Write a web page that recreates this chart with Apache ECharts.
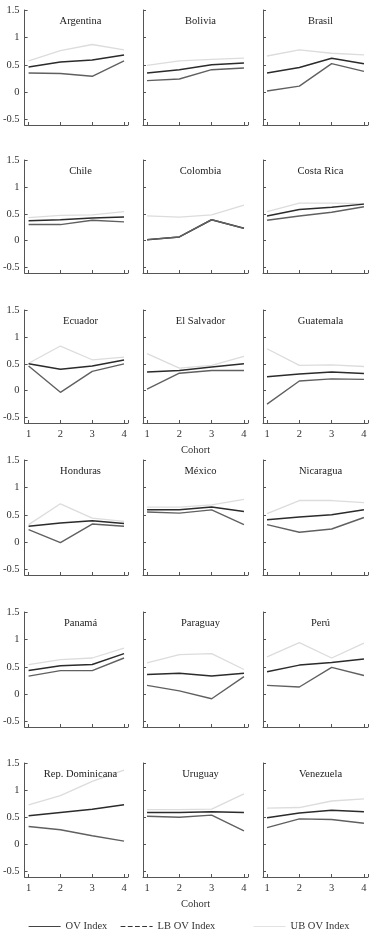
<!DOCTYPE html>
<html lang="en">
<head>
    <meta charset="UTF-8">
    <title>OV Index by cohort</title>
    <script src="https://cdn.jsdelivr.net/npm/echarts@6.0.0/dist/echarts.min.js"></script>
    <style>
        body, html {
            margin: 0;
            padding: 0;
            width: 100%;
            height: 100%;
            background-color: #fff;
        }
        #container {
            width: 376px;
            height: 932px;
        }
    </style>
</head>
<body>
    <div id="container"></div>
    <script>
        // data
        var countries = ['Argentina', 'Bolivia', 'Brasil', 'Chile', 'Colombia', 'Costa Rica',
            'Ecuador', 'El Salvador', 'Guatemala', 'Honduras', 'México', 'Nicaragua',
            'Panamá', 'Paraguay', 'Perú', 'Rep. Dominicana', 'Uruguay', 'Venezuela'];
        var cohorts = [1, 2, 3, 4];
        var yTicks = [-0.5, 0, 0.5, 1, 1.5];

        var ovIndex = [
            [0.46, 0.55, 0.585, 0.68], [0.35, 0.41, 0.50, 0.53], [0.35, 0.45, 0.62, 0.52],
            [0.37, 0.39, 0.42, 0.44], [0.02, 0.07, 0.39, 0.23], [0.46, 0.58, 0.62, 0.68],
            [0.50, 0.40, 0.46, 0.57], [0.35, 0.375, 0.44, 0.50], [0.26, 0.31, 0.35, 0.32],
            [0.29, 0.35, 0.39, 0.34], [0.59, 0.59, 0.64, 0.56], [0.41, 0.46, 0.50, 0.59],
            [0.43, 0.52, 0.54, 0.74], [0.36, 0.38, 0.33, 0.38], [0.41, 0.53, 0.58, 0.64],
            [0.53, 0.59, 0.65, 0.73], [0.59, 0.59, 0.60, 0.59], [0.49, 0.58, 0.63, 0.60]
        ];
        var lbIndex = [
            [0.35, 0.34, 0.29, 0.57], [0.21, 0.24, 0.41, 0.44], [0.02, 0.11, 0.52, 0.38],
            [0.30, 0.30, 0.38, 0.35], [0.02, 0.07, 0.39, 0.23], [0.38, 0.46, 0.53, 0.63],
            [0.46, -0.03, 0.36, 0.50], [0.03, 0.325, 0.375, 0.375], [-0.25, 0.18, 0.22, 0.21],
            [0.23, -0.01, 0.33, 0.29], [0.55, 0.53, 0.59, 0.32], [0.32, 0.18, 0.24, 0.45],
            [0.33, 0.43, 0.43, 0.66], [0.16, 0.06, -0.085, 0.32], [0.16, 0.13, 0.49, 0.34],
            [0.33, 0.27, 0.16, 0.06], [0.52, 0.50, 0.54, 0.25], [0.31, 0.47, 0.46, 0.39]
        ];
        var ubIndex = [
            [0.57, 0.76, 0.87, 0.77], [0.49, 0.57, 0.60, 0.62], [0.66, 0.77, 0.71, 0.68],
            [0.43, 0.47, 0.48, 0.54], [0.46, 0.44, 0.48, 0.66], [0.54, 0.70, 0.70, 0.69],
            [0.51, 0.83, 0.575, 0.625], [0.69, 0.42, 0.47, 0.64], [0.78, 0.47, 0.48, 0.45],
            [0.32, 0.70, 0.44, 0.38], [0.64, 0.64, 0.68, 0.78], [0.52, 0.76, 0.76, 0.72],
            [0.54, 0.63, 0.66, 0.84], [0.57, 0.72, 0.74, 0.45], [0.68, 0.94, 0.66, 0.93],
            [0.73, 0.90, 1.16, 1.37], [0.64, 0.64, 0.65, 0.93], [0.67, 0.68, 0.80, 0.84]
        ];

        // panel layout
        var rowTops = [10, 160, 310, 460, 612, 763];
        var rowBottoms = [125, 273, 423, 575, 727, 877];
        var colLefts = [23, 143, 263];
        var panelWidth = 105;
        var serif = 'Liberation Serif';

        var grids = [], xAxes = [], yAxes = [], titles = [], series = [];

        function pairs(vals) {
            return cohorts.map(function (c, i) { return [c, vals[i]]; });
        }

        countries.forEach(function (name, k) {
            var r = Math.floor(k / 3), c = k % 3;
            var top = rowTops[r], h = rowBottoms[r] - top;
            var showX = (r === 2 || r === 5);
            grids.push({ left: colLefts[c], top: top, width: panelWidth, height: h });
            xAxes.push({
                type: 'value', gridIndex: k, min: 0.875, max: 4.125,
                splitLine: { show: false },
                axisLine: { onZero: false, lineStyle: { color: '#555', width: 1 } },
                axisTick: { inside: true, length: 3, customValues: [1, 2, 3, 4, 4.125], lineStyle: { color: '#555' } },
                axisLabel: { show: showX, customValues: cohorts, margin: 6, fontFamily: serif, fontSize: 10.5, color: '#333' },
                name: (showX && c === 1) ? 'Cohort' : '',
                nameLocation: 'middle', nameGap: 22,
                nameTextStyle: { fontFamily: serif, fontSize: 10.5, color: '#333' }
            });
            yAxes.push({
                type: 'value', gridIndex: k, min: -0.6, max: 1.5,
                splitLine: { show: false },
                axisLine: { show: true, onZero: false, lineStyle: { color: '#555', width: 1 } },
                axisTick: { show: true, inside: true, length: 3, customValues: yTicks, lineStyle: { color: '#555' } },
                axisLabel: { show: c === 0, customValues: yTicks, margin: 5, fontFamily: serif, fontSize: 10.5, color: '#333' }
            });
            titles.push({
                text: name, left: colLefts[c] + panelWidth / 2, top: top + 1, textAlign: 'center',
                textStyle: { fontFamily: serif, fontSize: 10.5, fontWeight: 'normal', color: '#222' }
            });
            series.push({
                name: 'UB OV Index', type: 'line', xAxisIndex: k, yAxisIndex: k, symbol: 'none',
                lineStyle: { color: '#dcdcdc', width: 1.3 }, itemStyle: { color: '#dcdcdc' },
                data: pairs(ubIndex[k])
            });
            series.push({
                name: 'OV Index', type: 'line', xAxisIndex: k, yAxisIndex: k, symbol: 'none',
                lineStyle: { color: '#2b2b2b', width: 1.5 }, itemStyle: { color: '#2b2b2b' },
                data: pairs(ovIndex[k])
            });
            series.push({
                name: 'LB OV Index', type: 'line', xAxisIndex: k, yAxisIndex: k, symbol: 'none',
                lineStyle: { color: '#606060', width: 1.4 }, itemStyle: { color: '#606060' },
                data: pairs(lbIndex[k])
            });
        });

        function legendAt(left, name, color, type) {
            return {
                left: left, top: 916, itemWidth: 32, itemHeight: 10, selectedMode: false,
                textStyle: { fontFamily: serif, fontSize: 10.5, color: '#333' },
                data: [{
                    name: name,
                    lineStyle: { color: color, type: type, width: 1.2 },
                    itemStyle: { color: 'rgba(0,0,0,0)', borderColor: 'rgba(0,0,0,0)', borderWidth: 0 }
                }]
            };
        }

        var option = {
            backgroundColor: '#fff',
            animation: false,
            title: titles,
            legend: [
                legendAt(23, 'OV Index', '#444', 'solid'),
                legendAt(115, 'LB OV Index', '#333', 'dashed'),
                legendAt(248, 'UB OV Index', '#e2e2e2', 'solid')
            ],
            grid: grids,
            xAxis: xAxes,
            yAxis: yAxes,
            series: series
        };

        var chart = echarts.init(document.getElementById('container'));
        chart.setOption(option);
    </script>
</body>
</html>
